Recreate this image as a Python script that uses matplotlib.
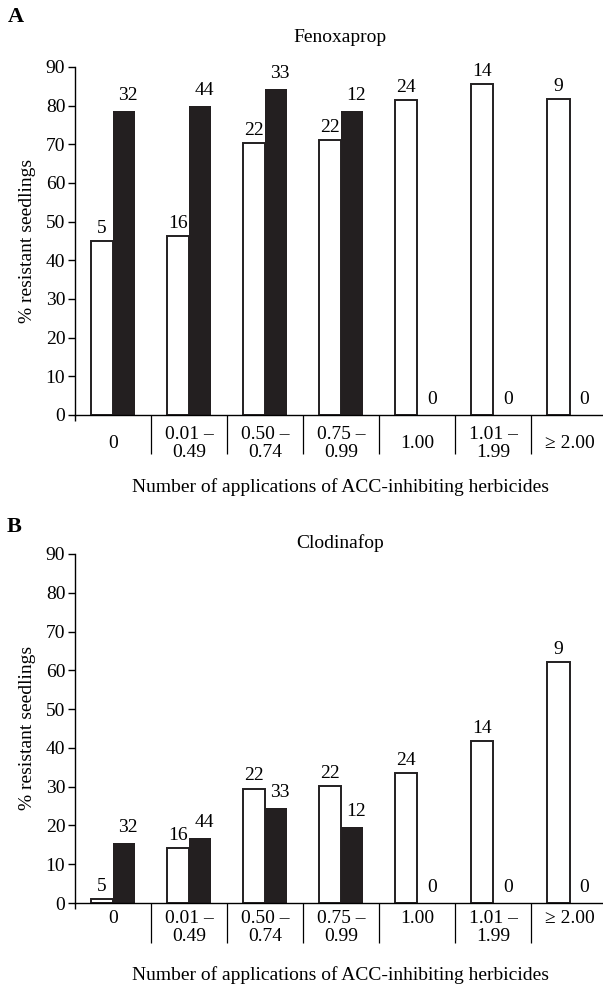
import matplotlib
matplotlib.use('Agg')
import matplotlib.pyplot as plt
import numpy as np

plt.rcParams['font.family'] = ['Liberation Serif', 'DejaVu Serif']
plt.rcParams['font.size'] = 14

categories = ['0', '0.01 –\n0.49', '0.50 –\n0.74', '0.75 –\n0.99', '1.00', '1.01 –\n1.99', '≥ 2.00']

# panel A: Fenoxaprop
feno_white = [45.0, 46.2, 70.3, 71.0, 81.4, 85.6, 81.7]
feno_black = [78.6, 80.0, 84.2, 78.6, 0, 0, 0]
# panel B: Clodinafop
clod_white = [1.0, 14.1, 29.5, 30.2, 33.4, 41.7, 62.2]
clod_black = [15.6, 16.8, 24.5, 19.6, 0, 0, 0]

n_white = [5, 16, 22, 22, 24, 14, 9]
n_black = [32, 44, 33, 12, 0, 0, 0]

dark = '#231f20'

fig = plt.figure(figsize=(6.03, 9.84), dpi=100)


def panel(ax, white, black, top_layout):
    x = np.arange(len(categories))
    w = 0.29
    ax.bar(x - w / 2, white, w, color='white', edgecolor=dark, linewidth=1.4)
    ax.bar(x + w / 2, black, w, color=dark, linewidth=0)
    for i in x:
        ax.annotate(str(n_white[i]), (i - w / 2, white[i]), xytext=(0, 3),
                    textcoords='offset points', ha='center', va='bottom')
        ax.annotate(str(n_black[i]), (i + w / 2 + 0.05, black[i]), xytext=(0, 5),
                    textcoords='offset points', ha='center', va='bottom')
    ax.set_ylim(0, 90)
    ax.set_xlim(-0.5, 6.44)
    ax.set_yticks(range(0, 91, 10))
    ax.spines['top'].set_visible(False)
    ax.spines['right'].set_visible(False)
    for s in ['left', 'bottom']:
        ax.spines[s].set_linewidth(1.0)
    ax.tick_params(axis='y', direction='out', length=5, width=1.0, pad=2)
    ax.set_xticks(np.arange(0.5, 6, 1))
    ax.set_xticks([-0.5], minor=True)
    ax.set_xticklabels([])
    ax.tick_params(axis='x', which='major', direction='out',
                   length=28 if top_layout else 29, width=0.9)
    ax.tick_params(axis='x', which='minor', direction='out', length=4, width=1.0)
    for i, lab in enumerate(categories):
        if top_layout:
            ax.annotate(lab, (i, 0), xycoords=('data', 'axes fraction'),
                        xytext=(0, -20.5), textcoords='offset points',
                        ha='center', va='center', linespacing=1.05)
        else:
            ax.annotate(lab, (i, 0), xycoords=('data', 'axes fraction'),
                        xytext=(0, -5), textcoords='offset points',
                        ha='center', va='top', linespacing=1.05)


ax1 = fig.add_axes([75 / 603, 0.5783, 1 - 75 / 603, 0.3537])
panel(ax1, feno_white, feno_black, True)
ax2 = fig.add_axes([75 / 603, 0.0823, 1 - 75 / 603, 0.3547])
panel(ax2, clod_white, clod_black, False)

fig.text(340 / 603, 1 - 37 / 984, 'Fenoxaprop', ha='center', va='center')
fig.text(340 / 603, 1 - 543 / 984, 'Clodinafop', ha='center', va='center')
fig.text(341 / 603, 1 - 487 / 984, 'Number of applications of ACC-inhibiting herbicides',
         ha='center', va='center')
fig.text(341 / 603, 1 - 975 / 984, 'Number of applications of ACC-inhibiting herbicides',
         ha='center', va='center')
fig.text(28 / 603, 1 - 241 / 984, '% resistant seedlings', rotation=90,
         ha='center', va='center')
fig.text(28 / 603, 1 - 728 / 984, '% resistant seedlings', rotation=90,
         ha='center', va='center')
fig.text(16 / 603, 1 - 17 / 984, 'A', fontsize=16, fontweight='bold', ha='center', va='center')
fig.text(14 / 603, 1 - 527 / 984, 'B', fontsize=16, fontweight='bold', ha='center', va='center')

plt.savefig('out.png', dpi=100)
